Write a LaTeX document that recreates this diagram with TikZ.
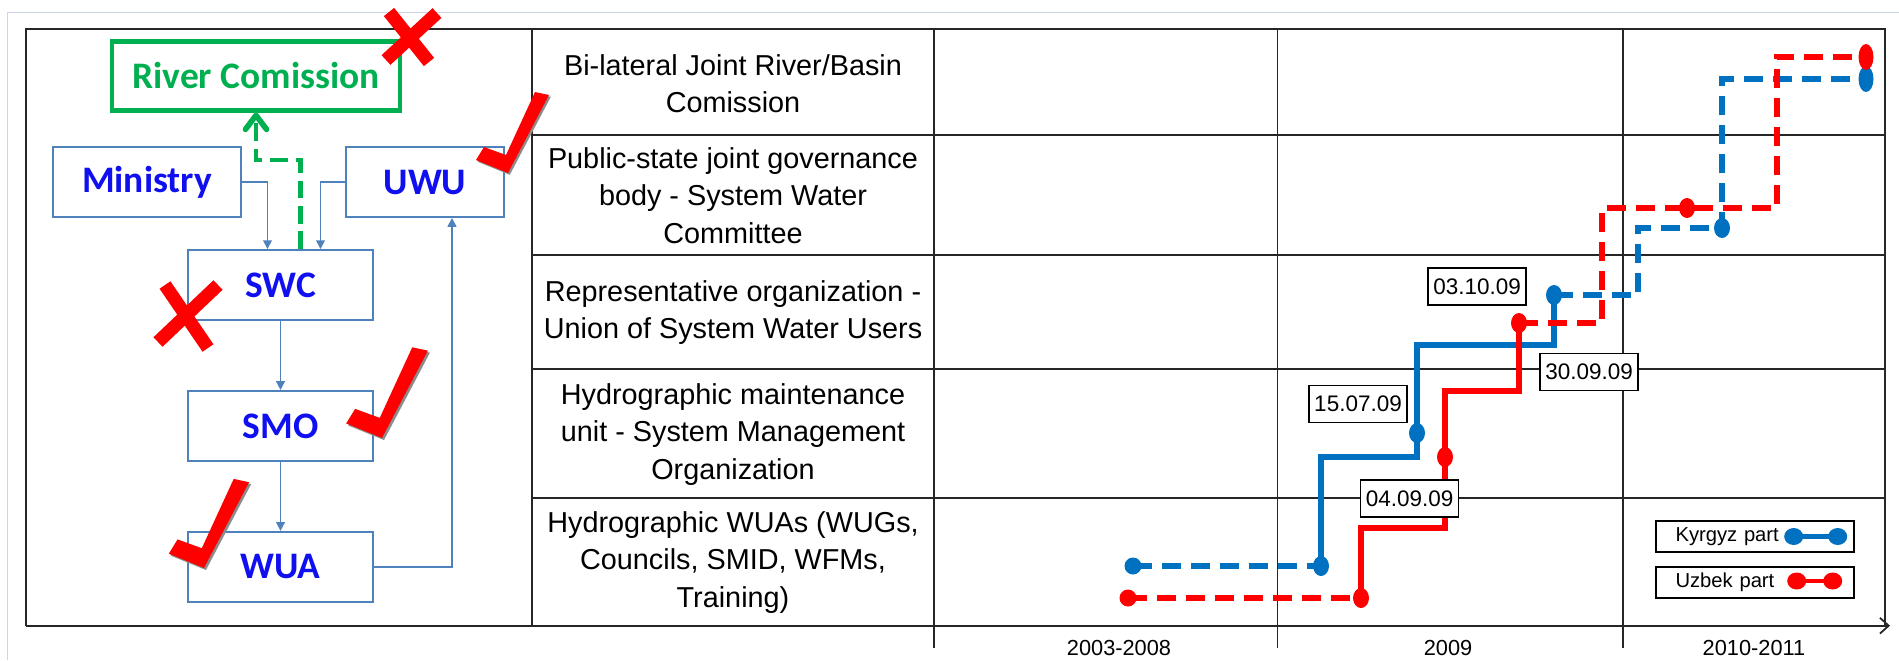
\documentclass[tikz,border=0pt]{standalone}
\usepackage{fontspec}
\setmainfont{Liberation Sans}
\newfontfamily\orgfont{Carlito}
\usepackage{tikz}
\usetikzlibrary{arrows.meta,positioning,calc}

\definecolor{boxblue}{RGB}{79,129,189}
\definecolor{orgblue}{RGB}{15,15,240}
\definecolor{rcgreen}{RGB}{0,176,80}
\definecolor{kblue}{RGB}{0,112,192}
\definecolor{ured}{RGB}{255,0,0}
\definecolor{pagegray}{RGB}{205,214,232}

\tikzset{
  orgbox/.style={draw=boxblue, line width=1.1pt, text=orgblue, minimum width=3.7cm,
    minimum height=1.4cm, font=\orgfont\bfseries\fontsize{21.3}{24}\selectfont},
  rcbox/.style={orgbox, draw=rcgreen, text=rcgreen, line width=2.3pt},
  flow/.style={boxblue, line width=0.9pt, -{Triangle[length=5pt,width=5pt]}},
  rcflow/.style={rcgreen, line width=2.3pt, dash pattern=on 10pt off 4.5pt,
    -{Straight Barb[length=8pt,width=12pt,line width=3.2pt,round]}},
  redcross/.style={ured, line width=7.5pt},
  okmark/.pic={
    \foreach \c/\s in {black!45/1.8, ured/0}
      \fill[\c, shift={(\s,\s)}] (-24,-26) -- (-32,-13) -- (0,0) -- (41,-78)
        -- (27,-81) -- (-2,-18) -- cycle;
  },
  levelcell/.style={align=center, font=\fontsize{16.4}{21.3}\selectfont},
  tableline/.style={black!85, line width=1pt},
  kyr/.style={kblue, line width=3.2pt},
  uzb/.style={ured, line width=3.2pt},
  planned/.style={dash pattern=on 11pt off 5.5pt},
  datebox/.style={draw, fill=white, line width=0.8pt, minimum width=1.96cm,
    minimum height=0.74cm, inner sep=0pt, font=\fontsize{12.8}{14}\selectfont},
  legbox/.style={draw, fill=white, line width=0.8pt, minimum height=0.62cm, text width=3.18cm,
    inner xsep=0.39cm, inner ysep=0pt, align=left, font=\fontsize{11.5}{13}\selectfont},
  yearlbl/.style={font=\fontsize{12.4}{14}\selectfont}
}

\begin{document}
\begin{tikzpicture}[x=0.02cm, y=-0.02cm]
    \fill[white] (0,0) rectangle (1899,660);
    \useasboundingbox (0,0) rectangle (1899,660);
    \draw[pagegray, line width=0.6pt] (7.5,660) -- (7.5,12.7) -- (1899,12.7);

    % table
    \draw[tableline] (532,29.3) -- (532,625.7);
    \foreach \x in {934,1277.5,1623}
	\draw[tableline] (\x,29.3) -- (\x,648);
    \foreach \y in {135,255,369,498}
	\draw[tableline] (532,\y) -- (1885,\y);
    \draw[tableline] (25.7,625.7) -- (25.7,29.3) -- (1885,29.3) -- (1885,625.7);
    \draw[tableline, -{Straight Barb[length=5pt,width=9pt]}] (25.7,625.7) -- (1890,625.7);

    \node[levelcell] (lvl1) at (733,83.5) {Bi-lateral Joint River/Basin\\Comission};
    \node[levelcell] (lvl2) at (733,195.5) {Public-state joint governance\\body - System Water\\Committee};
    \node[levelcell] (lvl3) at (733,312.5) {Representative organization -\\Union of System Water Users};
    \node[levelcell] (lvl4) at (733,434.5) {Hydrographic maintenance\\unit - System Management\\Organization};
    \node[levelcell] (lvl5) at (733,562.5) {Hydrographic WUAs (WUGs,\\Councils, SMID, WFMs,\\Training)};

    \node[yearlbl] (y1) at (1119,648) {2003-2008};
    \node[yearlbl] (y2) at (1448,648) {2009};
    \node[yearlbl] (y3) at (1754,648) {2010-2011};

    % organisations
    \node[rcbox, minimum width=5.75cm, minimum height=1.38cm] (rc) at (256,76) {River Comission};
    \node[orgbox, minimum width=3.76cm] (min) at (147,182) {Ministry};
    \node[orgbox, minimum width=3.16cm] (uwu) at (425,182) {UWU};
    \node[orgbox] (swc) at (280.5,285) {SWC};
    \node[orgbox, below=1.38cm of swc] (smo) {SMO};
    \node[orgbox, below=1.38cm of smo] (wua) {WUA};

    \draw[flow] (min.east) -| ($(swc.north)+(-13,0)$);
    \draw[flow] (uwu.west) -| ($(swc.north)+(40,0)$);
    \draw[flow] (swc) -- (smo);
    \draw[flow] (smo) -- (wua);
    \draw[flow] (wua.east) -| ($(uwu.south)+(27,0)$);
    \draw[rcflow] ($(swc.north)+(20,0)$) -- ++(0,-89) -| (rc.south);

    \draw[redcross] (389,12) -- (429,62) (437,13) -- (386,60);
    \draw[redcross] (165,285) -- (208,348) (218,285) -- (158,342);
    \pic at (508,173) {okmark};
    \pic[scale=1.12] at (382,438) {okmark};
    \pic[scale=1.1] at (204,568) {okmark};

    % Kyrgyz and Uzbek steps
    \coordinate (k0) at (1133,566);
    \coordinate (k1) at (1321,566);
    \coordinate (k2) at (1417,433);
    \coordinate (k3) at (1554,295);
    \coordinate (k4) at (1722,228);
    \coordinate (k5) at (1866,79);
    \coordinate (u0) at (1128,598);
    \coordinate (u1) at (1361,598);
    \coordinate (u2) at (1445,457);
    \coordinate (u3) at (1519,323);
    \coordinate (u4) at (1687,208);
    \coordinate (u5) at (1866,57);

    \draw[kyr,planned] (k0) -- (k1);
    \draw[kyr] (k1) |- (1417,457) -- (k2) -- (1417,345) -| (k3);
    \draw[kyr,planned] (k3) -| (1638,228) -- (k4) |- (k5);
    \draw[uzb,planned] (u0) -- (u1);
    \draw[uzb] (u1) |- (1445,528) -- (u2) -- (1445,391) -| (u3);
    \draw[uzb,planned] (u3) -| (1602,208) -- (u4) -- (1777,208) |- (u5);

    \foreach \p in {k1,k2,k3,k4}
	\fill[kblue] (\p) ellipse [x radius=0.16cm, y radius=0.2cm];
    \foreach \p in {u1,u2,u3,u4}
	\fill[ured] (\p) ellipse [x radius=0.16cm, y radius=0.2cm];
    \fill[kblue] (k0) circle [radius=0.17cm];
    \fill[ured] (u0) circle [radius=0.17cm];
    \fill[kblue] (k5) ellipse [x radius=0.15cm, y radius=0.26cm];
    \fill[ured] (u5) ellipse [x radius=0.15cm, y radius=0.26cm];

    \node[datebox] (d1) at (1358,404) {15.07.09};
    \node[datebox] (d2) at (1409.5,498.5) {04.09.09};
    \node[datebox] (d3) at (1477,286.5) {03.10.09};
    \node[datebox] (d4) at (1589,372) {30.09.09};

    % legend
    \node[legbox] (kleg) at (1755,536.5) {Kyrgyz part};
    \node[legbox] (uleg) at (1755,582.5) {Uzbek part};
    \draw[kyr, line width=2.5pt] ($(kleg.east)+(-61,0)$) coordinate (ka) -- ($(kleg.east)+(-17,0)$) coordinate (kb);
    \draw[uzb, line width=2.5pt] ($(uleg.east)+(-58,-1.5)$) coordinate (ua) -- ($(uleg.east)+(-22,-1.5)$) coordinate (ub);
    \foreach \p in {ka,kb}
	\fill[kblue] (\p) ellipse [x radius=0.19cm, y radius=0.17cm];
    \foreach \p in {ua,ub}
	\fill[ured] (\p) ellipse [x radius=0.19cm, y radius=0.17cm];
\end{tikzpicture}
\end{document}
